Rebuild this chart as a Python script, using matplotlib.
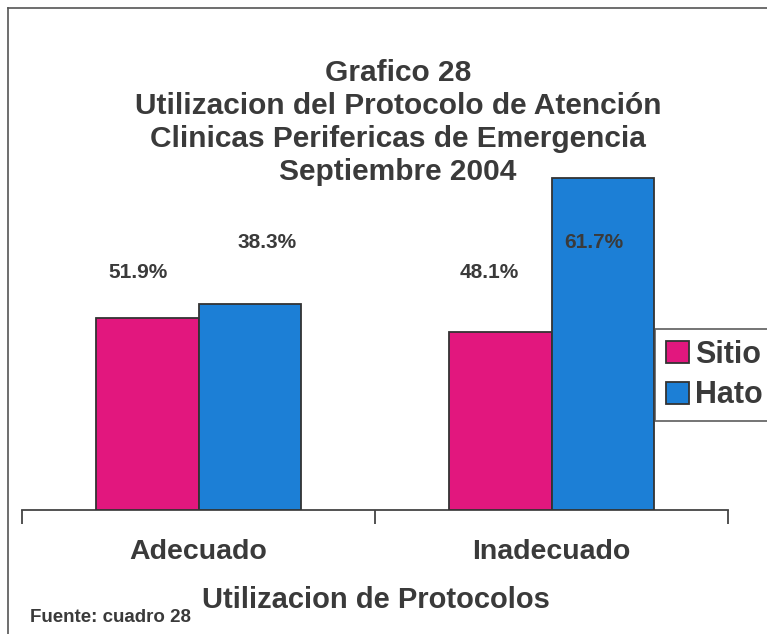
import matplotlib
matplotlib.use("Agg")
import matplotlib.pyplot as plt
import numpy as np
from matplotlib.lines import Line2D

# ---- data ----
categories = ["Adecuado", "Inadecuado"]
series_names = ["Sitio", "Hato"]
sitio_counts = [41, 38]
hato_counts = [44, 71]
sitio_labels = ["51.9%", "48.1%"]
hato_labels = ["38.3%", "61.7%"]

title_lines = ["Grafico 28",
               "Utilizacion del Protocolo de Atención",
               "Clinicas Perifericas de Emergencia",
               "Septiembre 2004"]
xlabel = "Utilizacion de Protocolos"
source = "Fuente: cuadro 28"

# ---- style ----
plt.rcParams['font.family'] = ['Liberation Sans', 'DejaVu Sans']
c_sitio = "#E2177E"
c_hato = "#1C7FD6"
edge = "#333333"
txt = "#3a3a3a"

W, H = 767, 634
fig = plt.figure(figsize=(W / 100, H / 100), dpi=100)

ax = fig.add_axes([22 / W, 1 - 510 / H, (728 - 22) / W, (510 - 136) / H])
x = np.arange(len(categories))
bw = 0.29
b1 = ax.bar(x - bw / 2, sitio_counts, bw, color=c_sitio, edgecolor=edge, linewidth=1.3, label=series_names[0], zorder=3)
b2 = ax.bar(x + bw / 2, hato_counts, bw, color=c_hato, edgecolor=edge, linewidth=1.3, label=series_names[1], zorder=3)

ax.set_xlim(-0.5, 1.5)
ax.set_ylim(0, 80)
for s in ["top", "right", "left"]:
    ax.spines[s].set_visible(False)
ax.spines["bottom"].set_color("#444444")
ax.spines["bottom"].set_linewidth(1.3)
ax.set_yticks([])
ax.set_xticks(x)
ax.set_xticklabels(categories, fontsize=20.5, fontweight="bold", color=txt)
ax.tick_params(axis="x", which="major", length=0, pad=21)
ax.set_xticks([-0.5, 0.5, 1.5], minor=True)
ax.tick_params(axis="x", which="minor", length=10, width=1.3, color="#444444", direction="out")

# data labels (fixed heights per series, shifted slightly from bar centres)
lab_y = {"Sitio": 50.9, "Hato": 57.3}
lab_dx = {"Sitio": [-0.025, -0.03], "Hato": [0.05, -0.025]}
for bars, labs, name in [(b1, sitio_labels, "Sitio"), (b2, hato_labels, "Hato")]:
    for i, (r, lab) in enumerate(zip(bars, labs)):
        cx = r.get_x() + r.get_width() / 2
        ax.text(cx + lab_dx[name][i], lab_y[name], lab, ha="center", va="center",
                fontsize=15, fontweight="bold", color=txt, zorder=5)

# title
for i, line in enumerate(title_lines):
    fig.text(398 / W, 1 - (73 + 33 * i) / H, line, ha="center", va="center",
             fontsize=21.5, fontweight="bold", color=txt)

fig.text(376 / W, 1 - 600 / H, xlabel, ha="center", va="center",
         fontsize=21, fontweight="bold", color=txt)
fig.text(30 / W, 1 - 617 / H, source, ha="left", va="center",
         fontsize=13.5, fontweight="bold", color=txt)

# legend
leg = fig.legend(handles=[b1, b2], labels=series_names,
                 loc="upper left", bbox_to_anchor=(655 / W, 1 - 329 / H),
                 prop={"weight": "bold", "size": 22},
                 frameon=True, fancybox=False, edgecolor="#444444",
                 handlelength=0.75, handleheight=0.75, handletextpad=0.2,
                 labelspacing=0.35, borderpad=0.35, borderaxespad=0)
leg.get_frame().set_linewidth(1.3)
for t in leg.get_texts():
    t.set_color(txt)

# page frame (left and top)
fig.add_artist(Line2D([8 / W, 8 / W], [0, 1 - 8 / H], color="#555555", lw=1.2))
fig.add_artist(Line2D([8 / W, 1], [1 - 8 / H, 1 - 8 / H], color="#555555", lw=1.2))

fig.savefig("out.png", dpi=100)
